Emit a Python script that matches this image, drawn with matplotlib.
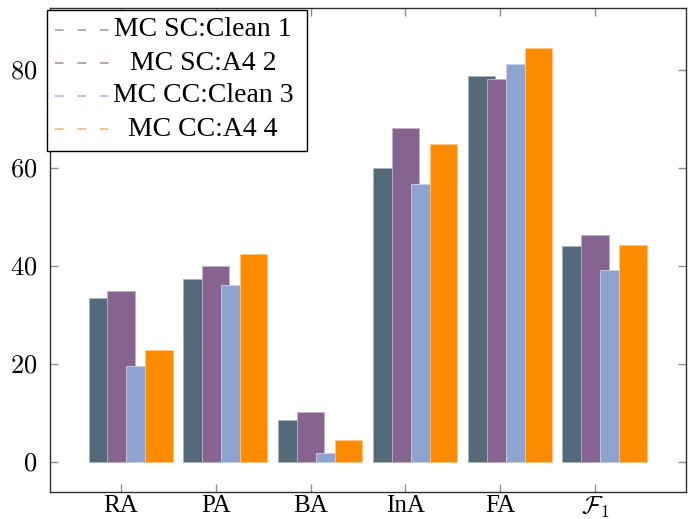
import matplotlib
matplotlib.use('Agg')
import matplotlib.pyplot as plt
import numpy as np
from matplotlib.patches import Rectangle
from matplotlib.lines import Line2D
from matplotlib.ticker import FuncFormatter

plt.rcParams['font.family'] = ['Liberation Serif', 'DejaVu Serif']
plt.rcParams['mathtext.fontset'] = 'cm'

# data
categories = ['RA', 'PA', 'BA', 'InA', 'FA', r'$\mathcal{F}_1$']
series_names = ['MC SC:Clean 1', 'MC SC:A4 2', 'MC CC:Clean 3', 'MC CC:A4 4']
sc_clean = [33.5, 37.3, 8.4, 59.9, 78.8, 44.1]
sc_a4 = [34.8, 39.9, 10.2, 68.2, 78.2, 46.3]
cc_clean = [19.6, 36.0, 1.8, 56.6, 81.2, 39.1]
cc_a4 = [22.7, 42.4, 4.4, 64.8, 84.5, 44.3]
series = [sc_clean, sc_a4, cc_clean, cc_a4]

colors = ['#546a7b', '#87638f', '#8fa3d1', '#ff8c00']
edge_colors = ['#a9b4bd', '#c3b1c7', '#c7d1e8', '#ffc580']
legend_colors = ['#98a6b0', '#b08fb6', '#a8b8e0', '#ffb866']

fig = plt.figure(figsize=(6.89, 5.19), dpi=100)
ax = fig.add_axes([50 / 689, 27 / 519, 636 / 689, 484 / 519])

x = np.arange(len(categories))
offsets = [-0.2, 0.0, 0.2, 0.4]
width = 0.287
for vals, off, c, ec in zip(series, offsets, colors, edge_colors):
    ax.bar(x + off, vals, width, color=c, edgecolor=ec, linewidth=0.6)

ax.set_xlim(-0.75, 5.96)
ax.set_ylim(-6.2, 92.6)
ax.set_xticks(x)
ax.set_xticklabels(categories, fontsize=18)
ax.set_yticks([0, 20, 40, 60, 80])
ax.yaxis.set_major_formatter(FuncFormatter(lambda v, p: '$%d$' % v))
ax.tick_params(direction='in', length=6, width=1, color='#909090',
               top=True, right=True)
ax.tick_params(axis='y', labelsize=19, pad=9)
ax.tick_params(axis='x', pad=2)
for s in ax.spines.values():
    s.set_color('#303030')
    s.set_linewidth(1.0)

# legend drawn in pixel coordinates on an overlay
lax = fig.add_axes([0, 0, 1, 1], zorder=10)
lax.set_xlim(0, 689)
lax.set_ylim(519, 0)
lax.axis('off')
lax.add_patch(Rectangle((47, 10), 260, 141, facecolor='white',
                        edgecolor='black', linewidth=1.0))
row_y = [30, 63, 96, 129]
for name, yy, lc in zip(series_names, row_y, legend_colors):
    lax.add_line(Line2D([55, 109], [yy, yy], color=lc, linewidth=1.2,
                        dashes=(5.1, 8.4)))
    lax.text(203, yy, name, ha='center', va='center', fontsize=20)

fig.savefig('out.png', dpi=100)
